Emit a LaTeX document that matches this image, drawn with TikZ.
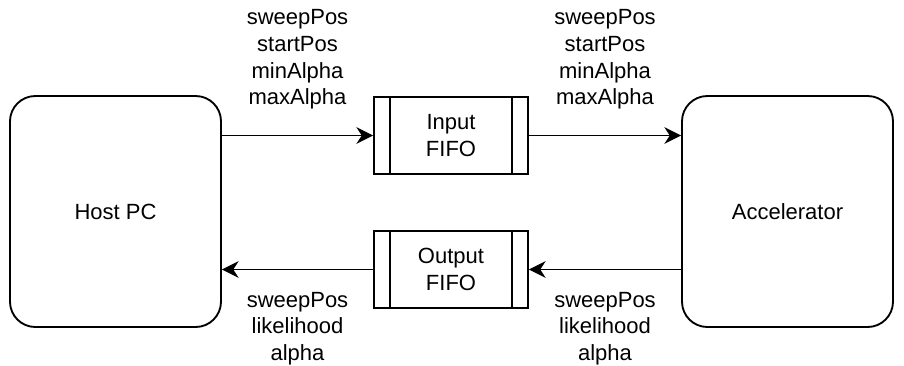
\documentclass[tikz,border=0pt]{standalone}
\usepackage{fontspec}
\setmainfont{Liberation Sans}
\usetikzlibrary{arrows.meta}

\tikzset{
  unit/.style={draw, line width=1.4pt, rounded corners=19pt, minimum width=158.25pt, minimum height=173.25pt, align=center},
  fifo/.style={draw, line width=1.4pt, minimum width=115.5pt, minimum height=57.75pt, align=center,
    path picture={
      \draw[line width=1.4pt] ([xshift=12pt]path picture bounding box.north west) -- ([xshift=12pt]path picture bounding box.south west);
      \draw[line width=1.4pt] ([xshift=-12pt]path picture bounding box.north east) -- ([xshift=-12pt]path picture bounding box.south east);
    }},
  flow/.style={line width=1.4pt, -{Stealth[length=12.5pt, width=12.5pt, inset=4pt]}},
  lbl/.style={align=center, inner sep=0pt}
}

\begin{document}
\begin{tikzpicture}[x=0.75pt, y=-0.75pt, font=\fontsize{16.5pt}{19.9pt}\selectfont]
        \useasboundingbox (0,0) rectangle (904,365);

        \node[unit] (host) at (115.5,211.5) {Host PC};
        \node[unit] (acc) at (787.5,211.5) {Accelerator};
        \node[fifo] (infifo) at (451,135.5) {Input\\FIFO};
        \node[fifo] (outfifo) at (451,269.5) {Output\\FIFO};

        \node[lbl] (inlblA) at (297.5,59.5) {sweepPos\\startPos\\minAlpha\\maxAlpha};
        \node[lbl] (inlblB) at (605,59.5) {sweepPos\\startPos\\minAlpha\\maxAlpha};
        \node[lbl] (outlblA) at (297.5,328.5) {sweepPos\\likelihood\\alpha};
        \node[lbl] (outlblB) at (605,328.5) {sweepPos\\likelihood\\alpha};

        \draw[flow] (host.east |- infifo.west) -- (infifo.west);
        \draw[flow] (infifo.east) -- (acc.west |- infifo.east);
        \draw[flow] (acc.west |- outfifo.east) -- (outfifo.east);
        \draw[flow] (outfifo.west) -- (host.east |- outfifo.west);
    \end{tikzpicture}
\end{document}
